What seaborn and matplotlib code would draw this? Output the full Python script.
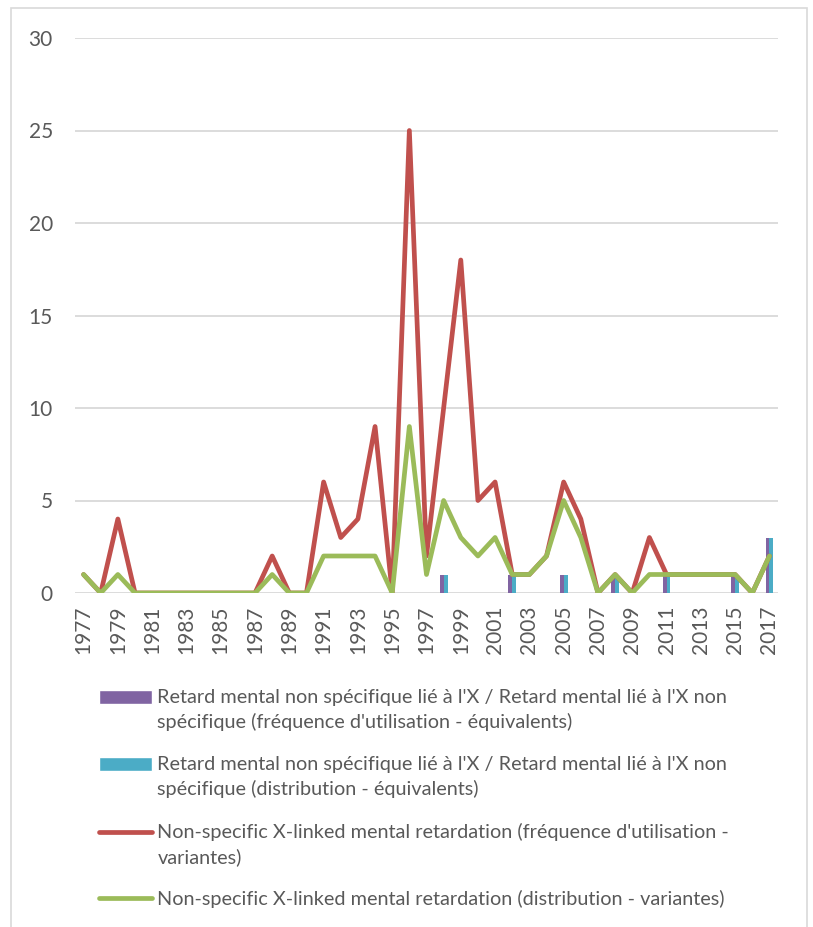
import numpy as np
import pandas as pd
import matplotlib
matplotlib.use("Agg")
import matplotlib.pyplot as plt
from matplotlib.patches import Rectangle, Patch
from matplotlib.lines import Line2D
from matplotlib.legend_handler import HandlerPatch, HandlerLine2D
import seaborn as sns

years = list(range(1977, 2018))

# bars (equivalents) - non-zero only at a few years
bar_years = [1998, 2002, 2005, 2008, 2011, 2015, 2017]
freq_equiv_vals = [1, 1, 1, 1, 1, 1, 3]
distrib_equiv_vals = [1, 1, 1, 1, 1, 1, 3]

# lines (variantes), 1977..2017
freq_var = [1, 0, 4, 0, 0, 0, 0, 0, 0, 0, 0, 2, 0, 0, 6, 3, 4, 9, 0, 25,
            2, 10, 18, 5, 6, 1, 1, 2, 6, 4, 0, 1, 0, 3, 1, 1, 1, 1, 1, 0, 2]
distrib_var = [1, 0, 1, 0, 0, 0, 0, 0, 0, 0, 0, 1, 0, 0, 2, 2, 2, 2, 0, 9,
               1, 5, 3, 2, 3, 1, 1, 2, 5, 3, 0, 1, 0, 1, 1, 1, 1, 1, 1, 0, 2]

labels = [
    "Retard mental non spécifique lié à l'X / Retard mental lié à l'X non\nspécifique (fréquence d'utilisation - équivalents)",
    "Retard mental non spécifique lié à l'X / Retard mental lié à l'X non\nspécifique (distribution - équivalents)",
    "Non-specific X-linked mental retardation (fréquence d'utilisation -\nvariantes)",
    "Non-specific X-linked mental retardation (distribution - variantes)",
]
colors = ["#8064A2", "#4BACC6", "#C0504D", "#9BBB59"]

sns.set_style("white")
plt.rcParams["font.family"] = ["Lato", "DejaVu Sans"]
txt = "#595959"

# long table for the bars
fe = dict(zip(bar_years, freq_equiv_vals))
de = dict(zip(bar_years, distrib_equiv_vals))
bars = pd.DataFrame({
    "year": [str(y) for y in years] * 2,
    "value": [fe.get(y, 0) for y in years] + [de.get(y, 0) for y in years],
    "series": [labels[0]] * len(years) + [labels[1]] * len(years),
})

fig = plt.figure(figsize=(8.13, 9.27), dpi=100)
ax = fig.add_axes([75 / 813, 1 - 593 / 927, (778 - 75) / 813, (593 - 38) / 927])

sns.barplot(data=bars, x="year", y="value", hue="series", order=[str(y) for y in years],
            hue_order=labels[:2], palette=colors[:2], width=0.45, saturation=1,
            errorbar=None, linewidth=0, ax=ax, legend=False)

pos = np.arange(len(years))
sns.lineplot(x=pos, y=freq_var, color=colors[2], lw=3.4, ax=ax, legend=False,
             solid_joinstyle="round", solid_capstyle="round", zorder=3)
sns.lineplot(x=pos, y=distrib_var, color=colors[3], lw=3.4, ax=ax, legend=False,
             solid_joinstyle="round", solid_capstyle="round", zorder=4)

ax.set_xlim(-0.5, len(years) - 0.5)
ax.set_ylim(0, 30)
ax.set_yticks(range(0, 31, 5))
ax.set_xticks(pos[::2])
ax.set_xticklabels([str(y) for y in years[::2]], rotation=90)
ax.set_xlabel("")
ax.set_ylabel("")
ax.grid(axis="y", color="#D9D9D9", lw=1.3)
ax.set_axisbelow(True)
for s in ax.spines.values():
    s.set_visible(False)
ax.tick_params(axis="y", length=0, pad=16, labelsize=15, labelcolor=txt)
ax.tick_params(axis="x", length=0, pad=9, labelsize=15, labelcolor=txt)


# legend handles sit on the first line of each label, like the original
class UpPatch(HandlerPatch):
    def __init__(self, dy, **kw):
        super().__init__(**kw)
        self.dy = dy

    def create_artists(self, legend, orig, xd, yd, w, h, fs, trans):
        return super().create_artists(legend, orig, xd, yd - self.dy * fs, w, h, fs, trans)


class UpLine(HandlerLine2D):
    def __init__(self, dy, **kw):
        super().__init__(**kw)
        self.dy = dy

    def create_artists(self, legend, orig, xd, yd, w, h, fs, trans):
        return super().create_artists(legend, orig, xd, yd - 2 * self.dy * fs, w, h, fs, trans)


h = [Patch(facecolor=colors[0]), Patch(facecolor=colors[1]),
     Line2D([], [], color=colors[2], lw=3.4, solid_capstyle="round"),
     Line2D([], [], color=colors[3], lw=3.4, solid_capstyle="round")]
hmap = {h[0]: UpPatch(0.66), h[1]: UpPatch(0.66), h[2]: UpLine(0.62), h[3]: UpLine(0)}
leg = fig.legend(h, labels, handler_map=hmap, loc="upper left",
                 bbox_to_anchor=(81 / 813, 1 - 671 / 927),
                 frameon=False, fontsize=14.3, handlelength=2.65, handletextpad=0.3,
                 labelspacing=1.22, labelcolor=txt)
for t in leg.get_texts():
    t.set_linespacing(1.5)

fig.patches.append(Rectangle((11 / 813, -0.01), (807 - 11) / 813, 1 - 8 / 927 + 0.01,
                             transform=fig.transFigure, fill=False, ec="#D9D9D9", lw=1.2))

fig.savefig("out.png", dpi=100)
